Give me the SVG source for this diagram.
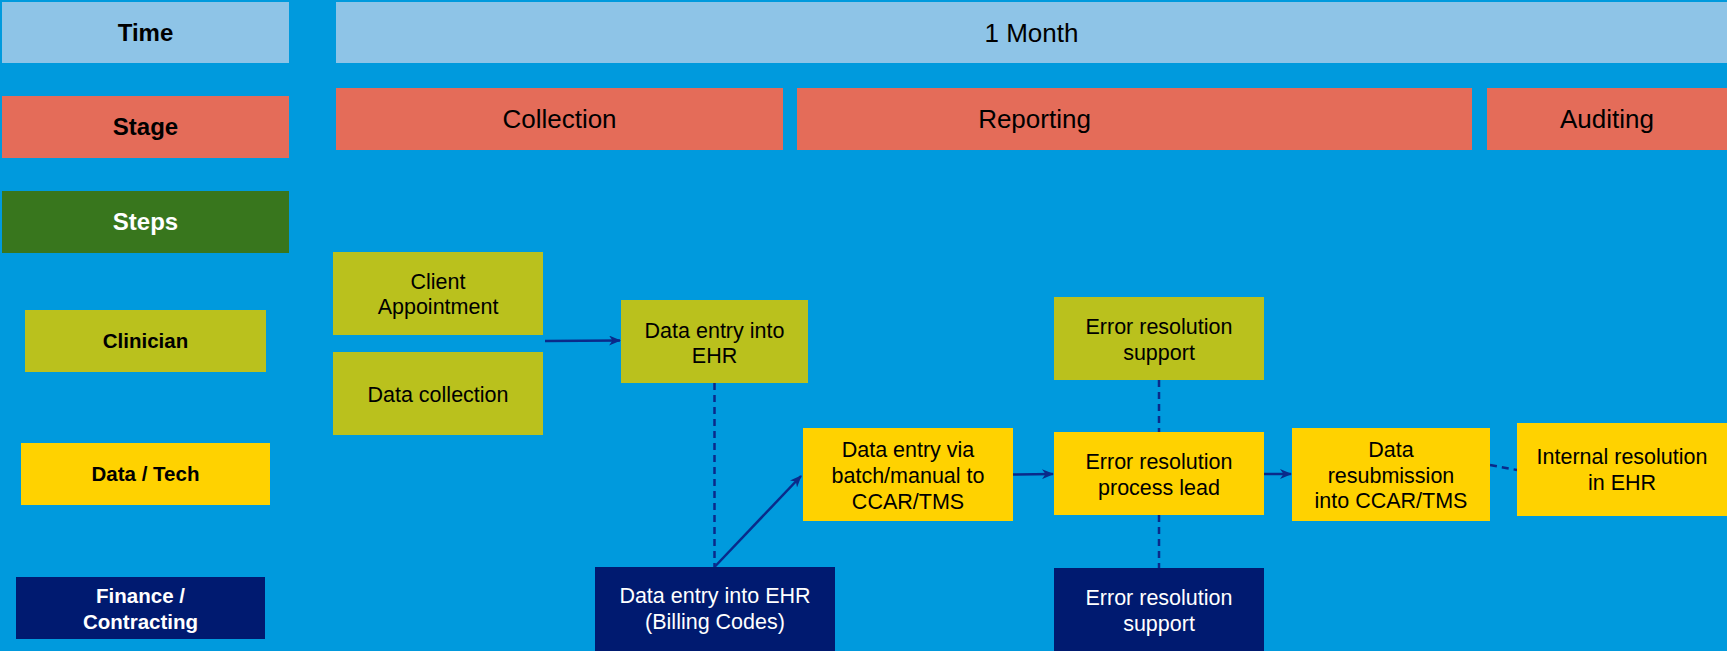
<svg xmlns="http://www.w3.org/2000/svg" width="1727" height="651" viewBox="0 0 1727 651">
<style>
.t{font-family:"Liberation Sans",Arial,sans-serif;text-anchor:middle}
.lbl{font-size:20.5px;font-weight:bold}
.hd{font-size:24px;font-weight:bold}
.st{font-size:26px}
.n{font-size:21.5px}
.dk{fill:#000}
.wh{fill:#fff}
.time{fill:#8EC4E7}
.stage{fill:#E46C59}
.steps{fill:#38761D}
.clin{fill:#BAC11D}
.data{fill:#FFD200}
.fin{fill:#001A70}
.c{stroke:#0A2A8A;stroke-width:2.5;fill:none}
.d{stroke:#0A2A8A;stroke-width:2.5;fill:none;stroke-dasharray:7,5}
</style>
<defs>
<marker id="ah" viewBox="0 0 12 10" refX="11" refY="5" markerWidth="12" markerHeight="10" markerUnits="userSpaceOnUse" orient="auto">
<path d="M0,0 L12,5 L0,10 L3.5,5 z" fill="#0A2A8A"/>
</marker>
</defs>
<rect width="1727" height="651" fill="#009ADD"/>

<g id="label-time"><rect class="time" x="2" y="2" width="287" height="61"/><text class="t hd dk" x="145.5" y="41">Time</text></g>
<g id="label-stage"><rect class="stage" x="2" y="96" width="287" height="62"/><text class="t hd dk" x="145.5" y="135">Stage</text></g>
<g id="label-steps"><rect class="steps" x="2" y="191" width="287" height="62"/><text class="t hd wh" x="145.5" y="230">Steps</text></g>
<g id="label-clinician"><rect class="clin" x="25" y="310" width="241" height="62"/><text class="t lbl dk" x="145.5" y="348">Clinician</text></g>
<g id="label-datatech"><rect class="data" x="21" y="443" width="249" height="62"/><text class="t lbl dk" x="145.5" y="481">Data / Tech</text></g>
<g id="label-finance"><rect class="fin" x="16" y="577" width="249" height="62"/><text class="t lbl wh" x="140.5" y="603">Finance /</text><text class="t lbl wh" x="140.5" y="629">Contracting</text></g>

<g id="time-bar"><rect class="time" x="336" y="2" width="1391" height="61"/><text class="t st dk" x="1031.5" y="42">1 Month</text></g>
<g id="stage-collection"><rect class="stage" x="336" y="88" width="447" height="62"/><text class="t st dk" x="559.5" y="128">Collection</text></g>
<g id="stage-reporting"><rect class="stage" x="797" y="88" width="675" height="62"/><text class="t st dk" x="1034.5" y="128">Reporting</text></g>
<g id="stage-auditing"><rect class="stage" x="1487" y="88" width="240" height="62"/><text class="t st dk" x="1607" y="128">Auditing</text></g>

<g id="connectors">
<line class="c" x1="545" y1="341" x2="620" y2="340.5" marker-end="url(#ah)"/>
<line class="d" x1="714.5" y1="383" x2="714.5" y2="567"/>
<line class="c" x1="714.5" y1="567" x2="801" y2="476" marker-end="url(#ah)"/>
<line class="c" x1="1013" y1="474.5" x2="1053" y2="474" marker-end="url(#ah)"/>
<line class="d" x1="1159" y1="380" x2="1159" y2="432"/>
<line class="d" x1="1159" y1="515" x2="1159" y2="568"/>
<line class="c" x1="1264" y1="474" x2="1291" y2="474" marker-end="url(#ah)"/>
<line class="d" x1="1490" y1="465" x2="1517" y2="470"/>
</g>

<g id="client-appointment"><rect class="clin" x="333" y="252" width="210" height="83"/><text class="t n dk" x="438" y="288.5">Client</text><text class="t n dk" x="438" y="314">Appointment</text></g>
<g id="data-collection"><rect class="clin" x="333" y="352" width="210" height="83"/><text class="t n dk" x="438" y="401.5">Data collection</text></g>
<g id="data-entry-ehr"><rect class="clin" x="621" y="300" width="187" height="83"/><text class="t n dk" x="714.5" y="337.5">Data entry into</text><text class="t n dk" x="714.5" y="363">EHR</text></g>
<g id="data-entry-billing"><rect class="fin" x="595" y="567" width="240" height="84"/><text class="t n wh" x="715" y="603">Data entry into EHR</text><text class="t n wh" x="715" y="629">(Billing Codes)</text></g>
<g id="data-entry-batch"><rect class="data" x="803" y="428" width="210" height="93"/><text class="t n dk" x="908" y="457">Data entry via</text><text class="t n dk" x="908" y="483">batch/manual to</text><text class="t n dk" x="908" y="508.5">CCAR/TMS</text></g>
<g id="error-support-clinician"><rect class="clin" x="1054" y="297" width="210" height="83"/><text class="t n dk" x="1159" y="333.5">Error resolution</text><text class="t n dk" x="1159" y="360">support</text></g>
<g id="error-process-lead"><rect class="data" x="1054" y="432" width="210" height="83"/><text class="t n dk" x="1159" y="468.5">Error resolution</text><text class="t n dk" x="1159" y="494.5">process lead</text></g>
<g id="error-support-finance"><rect class="fin" x="1054" y="568" width="210" height="83"/><text class="t n wh" x="1159" y="604.5">Error resolution</text><text class="t n wh" x="1159" y="631">support</text></g>
<g id="data-resubmission"><rect class="data" x="1292" y="428" width="198" height="93"/><text class="t n dk" x="1391" y="456.5">Data</text><text class="t n dk" x="1391" y="482.5">resubmission</text><text class="t n dk" x="1391" y="508">into CCAR/TMS</text></g>
<g id="internal-resolution"><rect class="data" x="1517" y="423" width="210" height="93"/><text class="t n dk" x="1622" y="464">Internal resolution</text><text class="t n dk" x="1622" y="490">in EHR</text></g>
</svg>
